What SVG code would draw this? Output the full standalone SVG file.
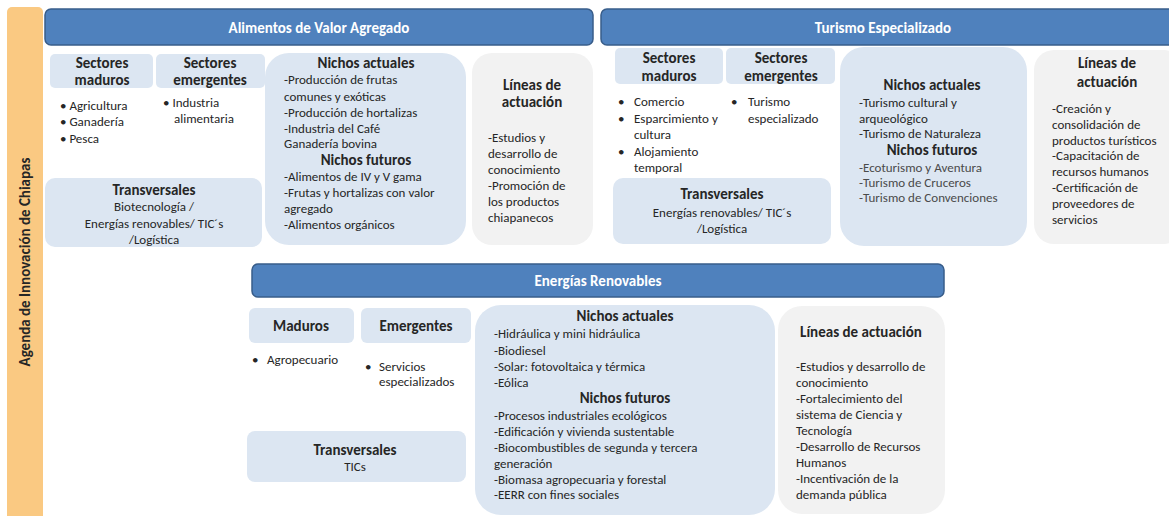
<svg xmlns="http://www.w3.org/2000/svg" width="1169" height="516" viewBox="0 0 1169 516">
<style>
text{font-family:Carlito,Lato,"Liberation Sans",sans-serif;fill:#262626}
.t{font-size:13px}
.h{font-size:15px;font-weight:bold;text-anchor:middle}
.c{text-anchor:middle}
.w{font-size:15px;font-weight:bold;fill:#fff;text-anchor:middle}
.lite{fill:#4a4a4a}
.band{fill:#4F81BD;stroke:#385D8A;stroke-width:1.5}
.lb{fill:#DCE6F2}
.gr{fill:#F2F2F2}
</style>
<rect width="1169" height="516" fill="#fff"/>
<g id="agenda">
<rect x="7" y="7" width="36" height="515" rx="5" fill="#FAC982"/>
<text transform="translate(30,262) rotate(-90)" style="font-size:15px;font-weight:bold;text-anchor:middle">Agenda de Innovación de Chiapas</text>
</g>
<g id="alimentos-header">
<rect class="band" x="45" y="9" width="548" height="36" rx="6"/>
<text class="w" x="319" y="33">Alimentos de Valor Agregado</text>
</g>
<g id="turismo-header">
<rect class="band" x="601" y="9" width="575" height="36" rx="6"/>
<text class="w" x="883" y="33">Turismo Especializado</text>
</g>
<g id="energias-header">
<rect class="band" x="252" y="264" width="692" height="33" rx="6"/>
<text class="w" x="598" y="286">Energías Renovables</text>
</g>

<g id="ali-maduros">
<rect class="lb" x="50" y="54" width="103" height="34" rx="5"/>
<text class="h" x="102" y="68">Sectores</text>
<text class="h" x="102" y="85">maduros</text>
<text class="t" x="60" y="110">•  Agricultura</text>
<text class="t" x="60" y="126">•  Ganadería</text>
<text class="t" x="60" y="143">•  Pesca</text>
</g>
<g id="ali-emergentes">
<rect class="lb" x="156" y="54" width="109" height="34" rx="5"/>
<text class="h" x="210" y="68">Sectores</text>
<text class="h" x="210" y="85">emergentes</text>
<text class="t" x="163" y="107">• Industria</text>
<text class="t" x="174" y="123">alimentaria</text>
</g>
<g id="ali-transversales">
<rect class="lb" x="45" y="178" width="217" height="69" rx="10"/>
<text class="h" x="154" y="195">Transversales</text>
<text class="t c" x="154" y="211">Biotecnología /</text>
<text class="t c" x="154" y="228">Energías renovables/ TIC´s</text>
<text class="t c" x="154" y="244">/Logística</text>
</g>
<g id="ali-nichos">
<rect class="lb" x="265" y="53" width="201" height="192" rx="24"/>
<text class="h" x="366" y="68">Nichos actuales</text>
<text class="t" x="284" y="84">-Producción de frutas</text>
<text class="t" x="284" y="101">comunes y exóticas</text>
<text class="t" x="284" y="117">-Producción de hortalizas</text>
<text class="t" x="284" y="133">-Industria del Café</text>
<text class="t" x="284" y="148">Ganadería bovina</text>
<text class="h" x="366" y="165">Nichos futuros</text>
<text class="t" x="284" y="181">-Alimentos de IV y V gama</text>
<text class="t" x="284" y="197">-Frutas y hortalizas con valor</text>
<text class="t" x="284" y="213">agregado</text>
<text class="t" x="284" y="229">-Alimentos orgánicos</text>
</g>
<g id="ali-lineas">
<rect class="gr" x="472" y="53" width="121" height="192" rx="20"/>
<text class="h" x="532" y="90">Líneas de</text>
<text class="h" x="532" y="107">actuación</text>
<text class="t" x="488" y="142">-Estudios y</text>
<text class="t" x="488" y="158">desarrollo de</text>
<text class="t" x="488" y="174">conocimiento</text>
<text class="t" x="488" y="190">-Promoción de</text>
<text class="t" x="488" y="206">los productos</text>
<text class="t" x="488" y="222">chiapanecos</text>
</g>

<g id="tur-maduros">
<rect class="lb" x="615" y="48" width="108" height="36" rx="5"/>
<text class="h" x="669" y="63">Sectores</text>
<text class="h" x="669" y="81">maduros</text>
<text class="t" x="618" y="106">•</text>
<text class="t" x="634" y="106">Comercio</text>
<text class="t" x="618" y="123">•</text>
<text class="t" x="634" y="123">Esparcimiento y</text>
<text class="t" x="634" y="139">cultura</text>
<text class="t" x="618" y="156">•</text>
<text class="t" x="634" y="156">Alojamiento</text>
<text class="t" x="634" y="172">temporal</text>
</g>
<g id="tur-emergentes">
<rect class="lb" x="726" y="48" width="109" height="36" rx="5"/>
<text class="h" x="781" y="63">Sectores</text>
<text class="h" x="781" y="81">emergentes</text>
<text class="t" x="731" y="106">•</text>
<text class="t" x="748" y="106">Turismo</text>
<text class="t" x="748" y="123">especializado</text>
</g>
<g id="tur-transversales">
<rect class="lb" x="613" y="178" width="218" height="66" rx="10"/>
<text class="h" x="722" y="199">Transversales</text>
<text class="t c" x="722" y="217">Energías renovables/ TIC´s</text>
<text class="t c" x="722" y="233">/Logística</text>
</g>
<g id="tur-nichos">
<rect class="lb" x="840" y="47" width="187" height="199" rx="24"/>
<text class="h" x="932" y="90">Nichos actuales</text>
<text class="t" x="859" y="107">-Turismo cultural y</text>
<text class="t" x="859" y="123">arqueológico</text>
<text class="t" x="859" y="138">-Turismo de Naturaleza</text>
<text class="h" x="932" y="155">Nichos futuros</text>
<text class="t lite" x="859" y="172">-Ecoturismo y Aventura</text>
<text class="t lite" x="859" y="187">-Turismo de Cruceros</text>
<text class="t lite" x="859" y="202">-Turismo de Convenciones</text>
</g>
<g id="tur-lineas">
<rect class="gr" x="1034" y="50" width="150" height="194" rx="20"/>
<text class="h" x="1107" y="68">Líneas de</text>
<text class="h" x="1107" y="87">actuación</text>
<text class="t" x="1052" y="113">-Creación y</text>
<text class="t" x="1052" y="129">consolidación de</text>
<text class="t" x="1052" y="145">productos turísticos</text>
<text class="t" x="1052" y="160">-Capacitación de</text>
<text class="t" x="1052" y="176">recursos humanos</text>
<text class="t" x="1052" y="192">-Certificación de</text>
<text class="t" x="1052" y="208">proveedores de</text>
<text class="t" x="1052" y="224">servicios</text>
</g>

<g id="ene-maduros">
<rect class="lb" x="249" y="308" width="105" height="35" rx="6"/>
<text class="h" x="301" y="331">Maduros</text>
<text class="t" x="252" y="364">•</text>
<text class="t" x="267" y="364">Agropecuario</text>
</g>
<g id="ene-emergentes">
<rect class="lb" x="361" y="308" width="110" height="35" rx="6"/>
<text class="h" x="416" y="331">Emergentes</text>
<text class="t" x="365" y="371">•</text>
<text class="t" x="379" y="371">Servicios</text>
<text class="t" x="379" y="386">especializados</text>
</g>
<g id="ene-transversales">
<rect class="lb" x="247" y="431" width="219" height="51" rx="8"/>
<text class="h" x="355" y="455">Transversales</text>
<text class="t c" x="355" y="471">TICs</text>
</g>
<g id="ene-nichos">
<rect class="lb" x="475" y="305" width="300" height="210" rx="26"/>
<text class="h" x="625" y="321">Nichos actuales</text>
<text class="t" x="494" y="338">-Hidráulica y mini hidráulica</text>
<text class="t" x="494" y="355">-Biodiesel</text>
<text class="t" x="494" y="371">-Solar: fotovoltaica y térmica</text>
<text class="t" x="494" y="387">-Eólica</text>
<text class="h" x="625" y="403">Nichos futuros</text>
<text class="t" x="494" y="420">-Procesos industriales ecológicos</text>
<text class="t" x="494" y="436">-Edificación y vivienda sustentable</text>
<text class="t" x="494" y="452">-Biocombustibles de segunda y tercera</text>
<text class="t" x="494" y="468">generación</text>
<text class="t" x="494" y="484">-Biomasa agropecuaria y forestal</text>
<text class="t" x="494" y="499">-EERR con fines sociales</text>
</g>
<g id="ene-lineas">
<rect class="gr" x="778" y="306" width="167" height="208" rx="24"/>
<text class="h" x="861" y="337">Líneas de actuación</text>
<text class="t" x="796" y="371">-Estudios y desarrollo de</text>
<text class="t" x="796" y="387">conocimiento</text>
<text class="t" x="796" y="403">-Fortalecimiento del</text>
<text class="t" x="796" y="419">sistema de Ciencia y</text>
<text class="t" x="796" y="435">Tecnología</text>
<text class="t" x="796" y="451">-Desarrollo de Recursos</text>
<text class="t" x="796" y="467">Humanos</text>
<text class="t" x="796" y="483">-Incentivación de la</text>
<text class="t" x="796" y="499">demanda pública</text>
</g>
<g id="connectors"></g>
</svg>
